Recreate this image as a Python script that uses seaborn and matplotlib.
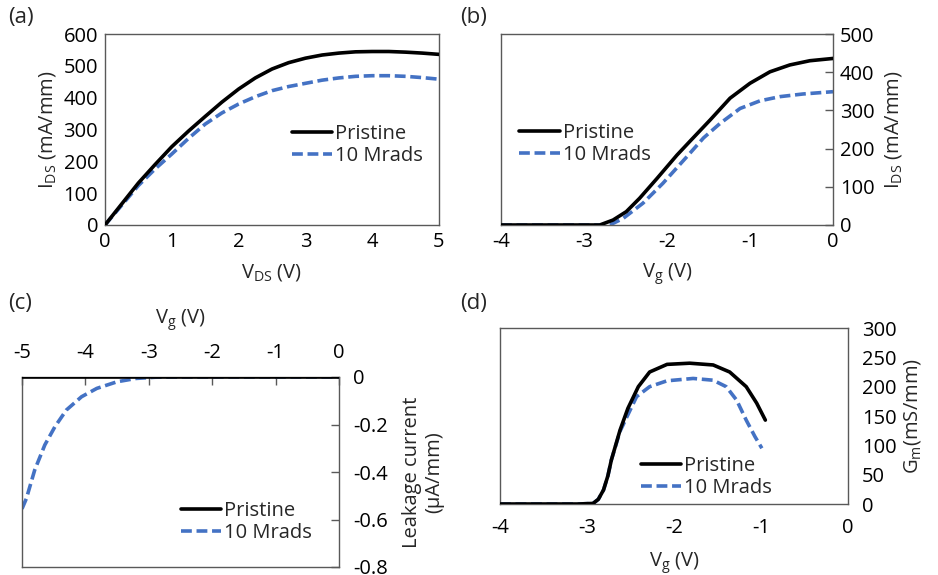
import numpy as np
import pandas as pd
import matplotlib
matplotlib.use("Agg")
import matplotlib.pyplot as plt
import seaborn as sns

sns.set_style("white")
plt.rcParams["font.family"] = ["Open Sans", "DejaVu Sans"]
plt.rcParams["mathtext.default"] = "regular"
plt.rcParams["axes.unicode_minus"] = False
FS = 14.5
plt.rcParams["font.size"] = FS

# ---- (a) output characteristics: I_DS vs V_DS ----
vds = [0, 0.25, 0.5, 0.75, 1.0, 1.25, 1.5, 1.75, 2.0, 2.25, 2.5, 2.75, 3.0, 3.25, 3.5, 3.75, 4.0, 4.25, 4.5, 4.75, 5.0]
ids_out_pristine = [0, 66, 132, 190, 246, 295, 341, 386, 427, 462, 490, 510, 524, 534, 540, 544, 545, 545, 543, 540, 536]
ids_out_irrad = [0, 62, 124, 176, 223, 272, 317, 352, 380, 403, 422, 435, 445, 455, 462, 467, 469, 469, 467, 463, 458]

# ---- (b) transfer characteristics: I_DS vs V_g ----
vg_tp = [-4.0, -3.5, -3.0, -2.81, -2.65, -2.49, -2.33, -2.12, -1.88, -1.72, -1.48, -1.24, -1.0, -0.76, -0.52, -0.28, 0.0]
ids_tr_pristine = [0, 0, 0, 0, 13, 35, 70, 122, 183, 220, 275, 332, 371, 401, 419, 430, 436]
vg_ti = [-4.0, -3.5, -3.0, -2.69, -2.53, -2.29, -2.05, -1.76, -1.56, -1.36, -1.12, -0.88, -0.64, -0.36, 0.0]
ids_tr_irrad = [0, 0, 0, 0, 17, 57, 109, 179, 228, 266, 305, 325, 336, 343, 349]

# ---- (c) gate leakage current vs V_g ----
vg_l = [-5.0, -4.93, -4.8, -4.64, -4.48, -4.3, -4.06, -3.82, -3.5, -3.2, -2.9, -2.5, -2.0, -1.0, 0.0]
leak_pristine = [0.0] * 15
leak_irrad = [-0.555, -0.511, -0.392, -0.286, -0.209, -0.139, -0.083, -0.048, -0.020, -0.006, -0.001, 0.0, 0.0, 0.0, 0.0]

# ---- (d) transconductance vs V_g ----
vg_gp = [-4.0, -3.5, -3.1, -2.93, -2.87, -2.81, -2.76, -2.72, -2.62, -2.53, -2.41, -2.28, -2.08, -1.82, -1.55, -1.36, -1.17, -1.05, -0.95]
gm_pristine = [0, 0, 0, 1, 8, 24, 48, 75, 126, 163, 200, 225, 238, 240, 237, 225, 200, 172, 143]
vg_gi = [-4.0, -3.5, -3.1, -2.93, -2.87, -2.81, -2.76, -2.72, -2.62, -2.54, -2.43, -2.28, -2.08, -1.78, -1.55, -1.40, -1.28, -1.17, -1.07, -0.99]
gm_irrad = [0, 0, 0, 1, 8, 24, 48, 75, 124, 149, 183, 200, 210, 214, 211, 200, 177, 143, 115, 95]

BLACK = "#000000"
BLUE = "#4472C4"
SPINE = "#595959"
LW = 2.6
DASH = (3.0, 1.3)
W, H = 938, 575

fig = plt.figure(figsize=(W / 100, H / 100), dpi=100)


def make_axes(left, right, top, bottom):
    return fig.add_axes([left / W, 1 - bottom / H, (right - left) / W, (bottom - top) / H])


def draw_pair(ax, x1, y1, x2, y2):
    df = pd.DataFrame({"x": list(x1) + list(x2),
                       "y": list(y1) + list(y2),
                       "series": ["Pristine"] * len(x1) + ["10 Mrads"] * len(x2)})
    sns.lineplot(data=df[df.series == "Pristine"], x="x", y="y", ax=ax,
                 color=BLACK, linewidth=LW, label="Pristine", zorder=3)
    sns.lineplot(data=df[df.series == "10 Mrads"], x="x", y="y", ax=ax,
                 color=BLUE, linewidth=LW, label="10 Mrads", zorder=2)
    ax.lines[1].set_dashes(DASH)
    ax.set_xlabel("")
    ax.set_ylabel("")


def style_frame(ax):
    for s in ax.spines.values():
        s.set_color(SPINE)
        s.set_linewidth(1.0)
    ax.tick_params(direction="in", length=6, width=1, color=SPINE,
                   labelsize=FS, pad=5, labelcolor="#000000")


def place_legend(ax, x, y):
    leg = ax.legend(loc="upper left", bbox_to_anchor=(x, y), frameon=False,
                    fontsize=FS, handlelength=2.0, handletextpad=0.15,
                    labelspacing=0.1, borderpad=0, borderaxespad=0)
    for h in leg.get_lines():
        h.set_linewidth(LW)
    leg.get_lines()[1].set_dashes(DASH)


# (a)
ax_a = make_axes(105, 439, 34, 225)
draw_pair(ax_a, vds, ids_out_pristine, vds, ids_out_irrad)
ax_a.set_xlim(0, 5)
ax_a.set_ylim(0, 600)
ax_a.set_xticks(range(0, 6))
ax_a.set_yticks(range(0, 601, 100))
style_frame(ax_a)
ax_a.set_xlabel("V$_{DS}$ (V)", fontsize=FS, labelpad=7)
ax_a.set_ylabel("I$_{DS}$ (mA/mm)", fontsize=FS, labelpad=4)
place_legend(ax_a, 0.56, 0.53)

# (b)
ax_b = make_axes(501, 833, 34, 225)
draw_pair(ax_b, vg_tp, ids_tr_pristine, vg_ti, ids_tr_irrad)
ax_b.set_xlim(-4, 0)
ax_b.set_ylim(0, 500)
ax_b.set_xticks(range(-4, 1))
ax_b.set_yticks(range(0, 501, 100))
ax_b.yaxis.tick_right()
ax_b.yaxis.set_label_position("right")
style_frame(ax_b)
ax_b.set_xlabel("V$_{g}$ (V)", fontsize=FS, labelpad=7)
ax_b.set_ylabel("I$_{DS}$ (mA/mm)", fontsize=FS, labelpad=6, rotation=90)
place_legend(ax_b, 0.055, 0.535)

# (c)
ax_c = make_axes(22, 339, 377, 567)
draw_pair(ax_c, vg_l, leak_pristine, vg_l, leak_irrad)
ax_c.set_xlim(-5, 0)
ax_c.set_ylim(-0.8, 0)
ax_c.set_xticks(range(-5, 1))
ax_c.set_yticks([0, -0.2, -0.4, -0.6, -0.8])
ax_c.set_yticklabels(["0", "-0.2", "-0.4", "-0.6", "-0.8"])
ax_c.xaxis.tick_top()
ax_c.xaxis.set_label_position("top")
ax_c.yaxis.tick_right()
ax_c.yaxis.set_label_position("right")
style_frame(ax_c)
ax_c.tick_params(axis="y", pad=10)
ax_c.tick_params(axis="x", pad=10)
ax_c.set_xlabel("V$_{g}$ (V)", fontsize=FS, labelpad=14)
ax_c.set_ylabel("Leakage current\n(µA/mm)", fontsize=FS, labelpad=10,
                rotation=90, linespacing=1.15)
place_legend(ax_c, 0.50, 0.345)

# (d)
ax_d = make_axes(500, 848, 328, 504)
draw_pair(ax_d, vg_gp, gm_pristine, vg_gi, gm_irrad)
ax_d.set_xlim(-4, 0)
ax_d.set_ylim(0, 300)
ax_d.set_xticks(range(-4, 1))
ax_d.set_yticks(range(0, 301, 50))
ax_d.yaxis.tick_right()
ax_d.yaxis.set_label_position("right")
style_frame(ax_d)
ax_d.tick_params(length=0, pad=10)
ax_d.set_xlabel("V$_{g}$ (V)", fontsize=FS, labelpad=9)
ax_d.set_ylabel("G$_{m}$(mS/mm)", fontsize=FS, labelpad=4, rotation=90)
place_legend(ax_d, 0.405, 0.272)

# panel tags
for tag, x, y in [("(a)", 8, 17), ("(b)", 460, 17), ("(c)", 8, 304), ("(d)", 460, 304)]:
    fig.text(x / W, 1 - y / H, tag, fontsize=16, va="center", ha="left")

fig.savefig("out.png", dpi=100)
